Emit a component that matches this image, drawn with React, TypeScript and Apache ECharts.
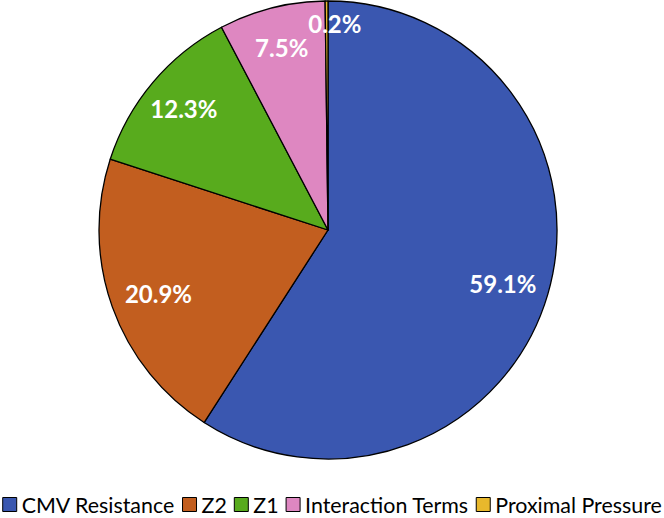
import React, { useEffect, useRef } from "react";
import * as echarts from "echarts";

const categories = ["CMV Resistance", "Z2", "Z1", "Interaction Terms", "Proximal Pressure"];
const values = [59.1, 20.9, 12.3, 7.5, 0.2];
const colors = ["#3A57B0", "#C25E1F", "#58AB1D", "#DE87C1", "#E8B82C"];

export default function App() {
  const ref = useRef<HTMLDivElement>(null);
  useEffect(() => {
    if (!ref.current) return;
    const chart = echarts.init(ref.current, undefined, { renderer: "svg" });
    const data = categories.map((name, i) => ({
      name,
      value: values[i],
      itemStyle: { color: colors[i] },
    }));
    chart.setOption({
      animation: false,
      backgroundColor: "#ffffff",
      legend: {
        data: categories,
        left: "center",
        top: 489,
        padding: [5, 0, 0, 0],
        itemWidth: 14,
        itemHeight: 14,
        itemGap: 7,
        icon: "rect",
        textStyle: { fontFamily: "Lato", fontSize: 21.4, color: "#000" },
        itemStyle: { borderColor: "#000", borderWidth: 1 },
      },
      series: [
        {
          type: "pie",
          center: [328, 230],
          radius: [0, 229],
          startAngle: 90,
          clockwise: true,
          silent: true,
          label: { show: false },
          labelLine: { show: false },
          itemStyle: { borderColor: "#000", borderWidth: 1.3 },
          data,
        },
        {
          type: "pie",
          center: [328, 230],
          radius: [142, 229],
          startAngle: 90,
          clockwise: true,
          silent: true,
          labelLine: { show: false },
          itemStyle: { color: "rgba(0,0,0,0)", borderWidth: 0 },
          label: {
            show: true,
            position: "inside",
            color: "#fff",
            fontFamily: "Lato",
            fontWeight: "bold",
            fontSize: 24,
            formatter: (p: any) => Number(p.value).toFixed(1) + "%",
          },
          labelLayout: (p: any) =>
            p.dataIndex === 4 ? { dx: 8, dy: -18 } : p.dataIndex === 1 ? { dx: 8 } : p.dataIndex === 0 ? { dx: -6 } : {},
          data: categories.map((name, i) => ({ name, value: values[i] })),
        },
      ],
    });
    return () => chart.dispose();
  }, []);
  return (
    <div
      ref={ref}
      style={{ position: "fixed", left: 0, top: 0, width: 664, height: 518 }}
    />
  );
}
